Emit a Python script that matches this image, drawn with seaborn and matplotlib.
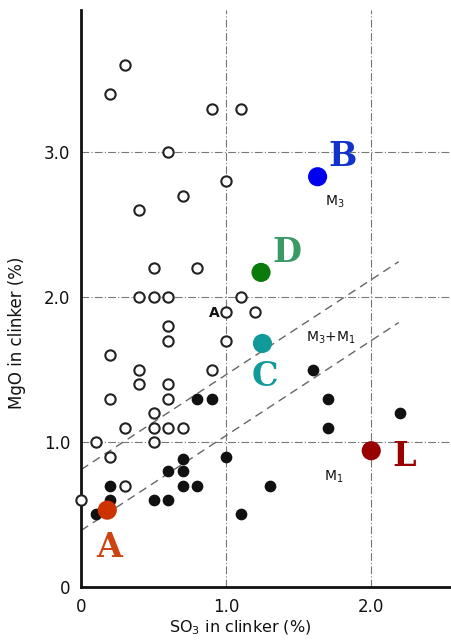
import numpy as np
import pandas as pd
import matplotlib
matplotlib.use("Agg")
import matplotlib.pyplot as plt
import seaborn as sns

# Open circles (M3 region)
open_x = [0.3, 0.2, 0.9, 1.1, 0.6, 1.0, 0.7, 0.4, 0.5, 0.8, 0.4, 0.5, 0.6, 1.1, 1.0, 1.2,
          0.6, 0.6, 1.0, 0.2, 0.4, 0.9, 0.4, 0.6, 0.2, 0.6, 0.5, 0.3, 0.5, 0.6, 0.7, 0.1,
          0.5, 0.2, 0.3, 0.0]
open_y = [3.6, 3.4, 3.3, 3.3, 3.0, 2.8, 2.7, 2.6, 2.2, 2.2, 2.0, 2.0, 2.0, 2.0, 1.9, 1.9,
          1.8, 1.7, 1.7, 1.6, 1.5, 1.5, 1.4, 1.4, 1.3, 1.3, 1.2, 1.1, 1.1, 1.1, 1.1, 1.0,
          1.0, 0.9, 0.7, 0.6]
# Filled circles (M1 region)
filled_x = [0.8, 0.9, 0.7, 1.0, 0.6, 0.7, 0.2, 0.7, 0.8, 0.2, 0.5, 0.6, 0.1, 1.1, 1.3,
            1.6, 1.7, 1.7, 2.2]
filled_y = [1.3, 1.3, 0.88, 0.9, 0.8, 0.8, 0.7, 0.7, 0.7, 0.6, 0.6, 0.6, 0.5, 0.5, 0.7,
            1.5, 1.3, 1.1, 1.2]

# Highlighted samples
sample_names = ["A", "B", "C", "D", "L"]
sample_x = [0.18, 1.63, 1.25, 1.24, 2.0]
sample_y = [0.53, 2.83, 1.68, 2.17, 0.94]
sample_dot_colors = ["#cc3300", "#0000ee", "#119a9a", "#0a7a0a", "#990000"]
sample_text_colors = ["#cc4411", "#1133cc", "#119a9a", "#3a9a66", "#990000"]
sample_text_x = [0.19, 1.80, 1.27, 1.42, 2.23]
sample_text_y = [0.27, 2.97, 1.45, 2.31, 0.90]

# Phase-boundary lines (MgO = intercept + slope * SO3)
boundary_x = [0.0, 2.19]
boundary_intercepts = [0.81, 0.39]
boundary_slope = 0.655

region_labels = ["M$_3$", "M$_3$+M$_1$", "M$_1$"]
region_x = [1.75, 1.72, 1.74]
region_y = [2.66, 1.72, 0.76]

sns.set_theme(style="white")
plt.rcParams["font.family"] = ["DejaVu Sans"]

fig = plt.figure(figsize=(4.51, 6.42), dpi=100)
ax = fig.add_axes([0.18, 0.0857, 0.82, 0.8987])

# grid lines
for gx in [1.0, 2.0]:
    ax.axvline(gx, color="#777777", lw=0.8, ls=(0, (7, 2, 1, 2)), zorder=0)
for gy in [1.0, 2.0, 3.0]:
    ax.axhline(gy, color="#777777", lw=0.8, ls=(0, (7, 2, 1, 2)), zorder=0)

# boundary lines
for b in boundary_intercepts:
    bx = np.array(boundary_x)
    df_b = pd.DataFrame({"x": bx, "y": b + boundary_slope * bx})
    sns.lineplot(data=df_b, x="x", y="y", ax=ax, color="#666666", lw=1.0,
                 linestyle=(0, (6, 4)), zorder=1)

df_open = pd.DataFrame({"x": open_x, "y": open_y})
df_filled = pd.DataFrame({"x": filled_x, "y": filled_y})
sns.scatterplot(data=df_open, x="x", y="y", ax=ax, marker="o", s=55,
                facecolor="white", edgecolor="#222222", linewidth=1.5, zorder=3,
                clip_on=False)
sns.scatterplot(data=df_filled, x="x", y="y", ax=ax, marker="o", s=55,
                color="#111111", edgecolor="#111111", linewidth=1.0, zorder=3)

df_s = pd.DataFrame({"x": sample_x, "y": sample_y, "name": sample_names})
sns.scatterplot(data=df_s, x="x", y="y", hue="name", palette=sample_dot_colors,
                ax=ax, s=190, edgecolor="none", legend=False, zorder=5)
for n, tx, ty, c in zip(sample_names, sample_text_x, sample_text_y, sample_text_colors):
    ax.text(tx, ty, n, color=c, fontsize=24, fontweight="bold",
            family="DejaVu Serif", ha="center", va="center", zorder=6)

for lab, rx, ry in zip(region_labels, region_x, region_y):
    ax.text(rx, ry, lab, fontsize=10, ha="center", va="center", color="#111111")
ax.text(0.92, 1.89, "A", fontsize=10, fontweight="bold", ha="center", va="center",
        color="#111111")

ax.set_xlim(0, 2.55)
ax.set_ylim(0, 3.98)
ax.set_xticks([0, 1.0, 2.0])
ax.set_xticklabels(["0", "1.0", "2.0"])
ax.set_yticks([0, 1.0, 2.0, 3.0])
ax.set_yticklabels(["0", "1.0", "2.0", "3.0"])
ax.tick_params(axis="both", labelsize=12, colors="#111111", length=0, pad=8)
ax.set_xlabel("SO$_3$ in clinker (%)", fontsize=11.5, color="#111111")
ax.xaxis.set_label_coords(0.43, -0.055)
ax.set_ylabel("MgO in clinker (%)", fontsize=12, color="#111111", labelpad=10)
ax.yaxis.set_label_coords(-0.15, 0.44)

for s in ["top", "right"]:
    ax.spines[s].set_visible(False)
for s in ["left", "bottom"]:
    ax.spines[s].set_color("#111111")
    ax.spines[s].set_linewidth(2.0)

fig.savefig("out.png", dpi=100)
